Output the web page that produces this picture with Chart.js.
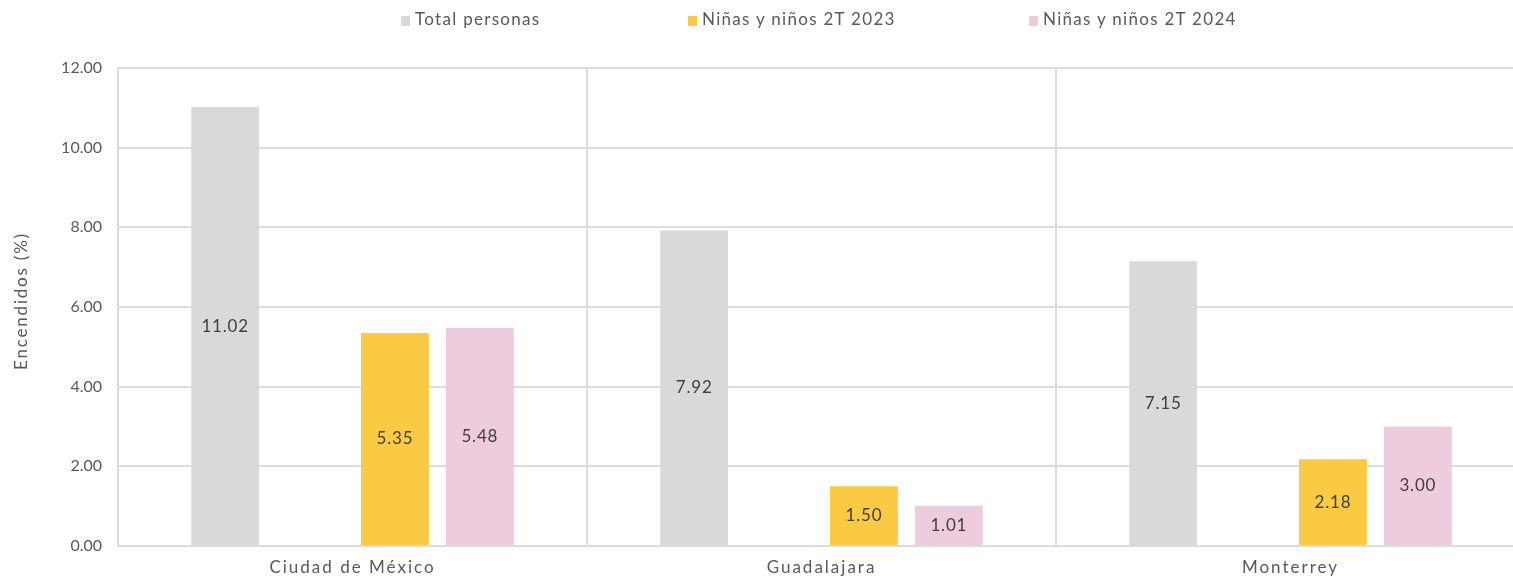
<!DOCTYPE html>
<html lang="es">
<head>
<meta charset="UTF-8">
<title>Encendidos (%)</title>
<script src="https://cdn.jsdelivr.net/npm/chart.js@4.4.3/dist/chart.umd.min.js"></script>
<style>
    html, body { margin: 0; padding: 0; background: #fff; width: 1513px; height: 579px; overflow: hidden; }
    #wrap { position: relative; width: 1526px; height: 579px; }
    #legend { position: absolute; top: 0; left: 0; height: 38px; width: 1513px; font-family: Lato, sans-serif; font-size: 17px; letter-spacing: 1.3px; color: #595959; }
    .item { position: absolute; top: 9px; white-space: nowrap; line-height: 20px; }
    .box { display: inline-block; width: 9px; height: 10px; margin-right: 5px; vertical-align: -1px; }
</style>
</head>
<body>
<div id="wrap">
    <div id="legend"></div>
    <canvas id="chart" width="1526" height="579"></canvas>
</div>
<script>
    // Data
    const categories = ['Ciudad de México', 'Guadalajara', 'Monterrey'];
    const totalPersonas = [11.02, 7.92, 7.15];
    const emptySlot = [null, null, null]; // hidden series, keeps the empty gap between bars
    const ninos2023 = [5.35, 1.50, 2.18];
    const ninos2024 = [5.48, 1.01, 3.00];
    const yTicks = [0, 2, 4, 6, 8, 10, 12];

    const seriesNames = ['Total personas', 'Niñas y niños 2T 2023', 'Niñas y niños 2T 2024'];
    const seriesColors = ['#D9D9D9', '#F9CA42', '#EDCDDD'];
    const yTitle = 'Encendidos (%)';

    const FONT = 'Lato, sans-serif';
    const TEXT = '#595959';
    const GRID = '#DCDCDC';

    // Legend (HTML, Excel-like spacing)
    const legendX = [401, 688, 1029];
    const legend = document.getElementById('legend');
    seriesNames.forEach((name, i) => {
        const el = document.createElement('div');
        el.className = 'item';
        el.style.left = legendX[i] + 'px';
        el.innerHTML = '<span class="box" style="background:' + seriesColors[i] + '"></span>' + name;
        legend.appendChild(el);
    });

    // Value labels centred in each bar, plus category labels and y title
    // (drawn here so the wide Excel font can be approximated with letter spacing)
    const textPlugin = {
        id: 'textPlugin',
        afterDraw(chart) {
            const ctx = chart.ctx;
            const area = chart.chartArea;
            ctx.save();
            ctx.textAlign = 'center';
            ctx.textBaseline = 'middle';

            ctx.font = '17px ' + FONT;
            ctx.letterSpacing = '0.8px';
            ctx.fillStyle = '#404040';
            chart.data.datasets.forEach((ds, i) => {
                const meta = chart.getDatasetMeta(i);
                meta.data.forEach((bar, j) => {
                    const v = ds.data[j];
                    if (v === null || v === undefined) return;
                    ctx.fillText(v.toFixed(2), bar.x, (bar.y + bar.base) / 2);
                });
            });

            ctx.font = '17px ' + FONT;
            ctx.letterSpacing = '2px';
            ctx.fillStyle = TEXT;
            const xs = chart.scales.x;
            categories.forEach((c, i) => {
                ctx.fillText(c, xs.getPixelForTick(i), area.bottom + 22);
            });

            ctx.letterSpacing = '1.8px';
            ctx.translate(22, (area.top + area.bottom) / 2 - 6);
            ctx.rotate(-Math.PI / 2);
            ctx.fillText(yTitle, 0, 0);
            ctx.restore();
        }
    };

    const makeSet = (label, data, color) => ({
        label: label,
        data: data,
        backgroundColor: color,
        borderWidth: 0,
        barPercentage: 0.8,
        categoryPercentage: 0.724
    });

    new Chart(document.getElementById('chart'), {
        type: 'bar',
        data: {
            labels: categories,
            datasets: [
                makeSet(seriesNames[0], totalPersonas, seriesColors[0]),
                makeSet('', emptySlot, 'rgba(0,0,0,0)'),
                makeSet(seriesNames[1], ninos2023, seriesColors[1]),
                makeSet(seriesNames[2], ninos2024, seriesColors[2])
            ]
        },
        options: {
            responsive: false,
            animation: false,
            layout: { padding: { top: 68, right: 1, left: 0, bottom: 0 } },
            plugins: {
                legend: { display: false },
                tooltip: { enabled: false }
            },
            scales: {
                x: {
                    grid: { color: GRID, lineWidth: 2, drawTicks: false, offset: true },
                    border: { color: GRID, width: 2 },
                    ticks: { display: false },
                    afterFit: (s) => { s.height = 33; }
                },
                y: {
                    min: 0,
                    max: 12,
                    afterBuildTicks: (s) => { s.ticks = yTicks.map(v => ({ value: v })); },
                    grid: { color: GRID, lineWidth: 2, drawTicks: false },
                    border: { color: GRID, width: 2 },
                    ticks: {
                        color: TEXT,
                        font: { family: FONT, size: 16 },
                        padding: 16,
                        callback: (v) => Number(v).toFixed(2)
                    },
                    afterFit: (s) => { s.width = 118; }
                }
            }
        },
        plugins: [textPlugin]
    });
</script>
</body>
</html>
